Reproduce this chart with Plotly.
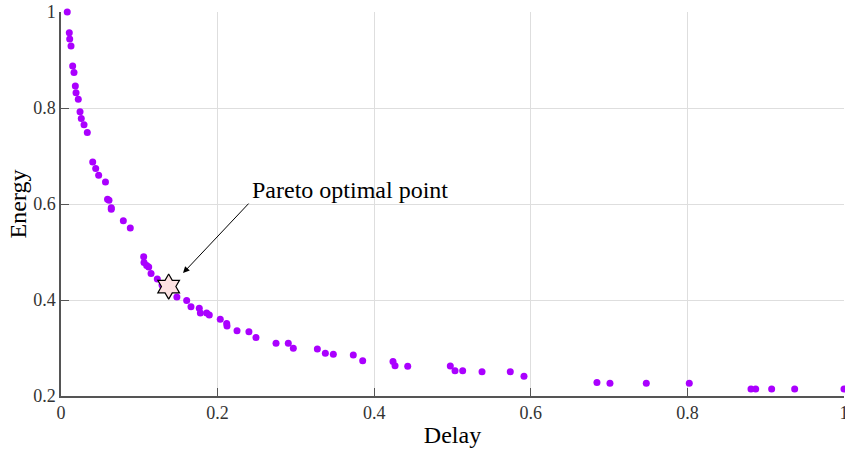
import plotly.graph_objects as go

delay = [0.008, 0.0106, 0.0111, 0.0128, 0.0149, 0.0166, 0.0183, 0.0192, 0.0221, 0.0243,
         0.0259, 0.0294, 0.0336, 0.0405, 0.0443, 0.0481, 0.0568, 0.0594, 0.0613, 0.0642,
         0.0642, 0.0796, 0.0885, 0.1056, 0.106, 0.1094, 0.112, 0.115, 0.123, 0.129,
         0.148, 0.1605, 0.166, 0.1766, 0.178, 0.186, 0.1894, 0.2034, 0.2116, 0.212,
         0.2248, 0.240, 0.249, 0.2746, 0.2903, 0.2967, 0.3274, 0.3376, 0.3478, 0.3733,
         0.3853, 0.424, 0.4266, 0.4428, 0.4972, 0.5032, 0.513, 0.5377, 0.5738, 0.5913,
         0.6845, 0.7011, 0.7475, 0.8024, 0.8812, 0.8872, 0.9076, 0.937, 1.0]
energy = [1.0, 0.957, 0.944, 0.929, 0.8875, 0.874, 0.846, 0.832, 0.818, 0.792,
          0.778, 0.765, 0.749, 0.6875, 0.674, 0.660, 0.646, 0.610, 0.608, 0.592,
          0.589, 0.565, 0.550, 0.490, 0.478, 0.472, 0.469, 0.455, 0.444, 0.431,
          0.406, 0.399, 0.386, 0.383, 0.373, 0.373, 0.369, 0.360, 0.351, 0.346,
          0.336, 0.334, 0.322, 0.310, 0.310, 0.2994, 0.298, 0.289, 0.287, 0.2854,
          0.2735, 0.272, 0.263, 0.262, 0.2625, 0.2527, 0.2527, 0.2507, 0.2507, 0.241,
          0.228, 0.2264, 0.2264, 0.2264, 0.2146, 0.2146, 0.2146, 0.2146, 0.2146]

opt_delay = [0.1375]
opt_energy = [0.428]

x_ticks = [0, 0.2, 0.4, 0.6, 0.8, 1]
x_tick_labels = ["0", "0.2", "0.4", "0.6", "0.8", "1"]
y_ticks = [0.2, 0.4, 0.6, 0.8, 1]
y_tick_labels = ["0.2", "0.4", "0.6", "0.8", "1"]

arrow_head = (0.1558, 0.456)
arrow_tail = (0.2414, 0.604)
label_pos = (0.369, 0.629)
label_text = "Pareto optimal point"

font_family = "Liberation Serif"

fig = go.Figure()
fig.add_trace(go.Scatter(
    x=delay, y=energy, mode="markers",
    marker=dict(size=7, color="#aa00ff", line=dict(width=0)),
    cliponaxis=False, showlegend=False, hoverinfo="skip"))
fig.add_trace(go.Scatter(
    x=opt_delay, y=opt_energy, mode="markers",
    marker=dict(symbol="hexagram", size=19, color="#fde2e2",
                line=dict(width=1.2, color="#000000")),
    cliponaxis=False, showlegend=False, hoverinfo="skip"))

fig.add_annotation(
    x=arrow_head[0], y=arrow_head[1], xref="x", yref="y",
    ax=arrow_tail[0], ay=arrow_tail[1], axref="x", ayref="y",
    text="", showarrow=True, arrowhead=2, arrowsize=1.3, arrowwidth=1,
    arrowcolor="#000000")
fig.add_annotation(
    x=label_pos[0], y=label_pos[1], xref="x", yref="y",
    text=label_text, showarrow=False,
    font=dict(family=font_family, size=24, color="#000000"))

axis_common = dict(
    showgrid=True, gridcolor="#dedede", gridwidth=1,
    showline=True, linecolor="#555555", linewidth=1.5,
    ticks="inside", ticklen=8, tickwidth=1.2, tickcolor="#555555",
    zeroline=False, mirror=False, ticklabeloverflow="allow", automargin=False,
    tickfont=dict(family=font_family, size=18, color="#333333"),
)

fig.update_xaxes(range=[0, 1], tickvals=x_ticks, ticktext=x_tick_labels,
                 title=dict(text="Delay", font=dict(family=font_family, size=24, color="#000000"),
                            standoff=4),
                 **axis_common)
fig.update_yaxes(range=[0.2, 1], tickvals=y_ticks, ticktext=y_tick_labels,
                 title=dict(text="Energy", font=dict(family=font_family, size=24, color="#000000"),
                            standoff=0),
                 **axis_common)

fig.update_layout(
    width=845, height=451,
    margin=dict(l=61, r=1, t=12, b=55),
    plot_bgcolor="white", paper_bgcolor="white",
    font=dict(family=font_family),
)

fig.write_html("out.html")
